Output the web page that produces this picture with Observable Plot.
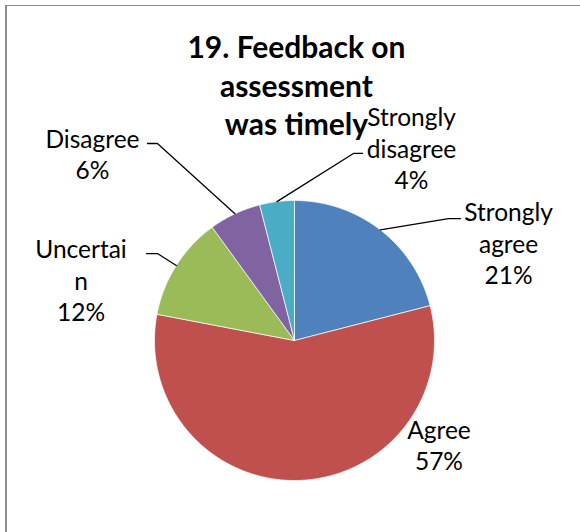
<!DOCTYPE html>
<html>
<head>
<meta charset="utf-8">
<script src="https://cdn.jsdelivr.net/npm/d3@7"></script>
<script src="https://cdn.jsdelivr.net/npm/@observablehq/plot@0.6"></script>
<style>
  html, body { margin: 0; padding: 0; background: #fff; }
  #wrap { position: relative; width: 580px; height: 532px; overflow: hidden; }
  #border { position: absolute; left: 5px; top: 5px; width: 580px; height: 540px;
            border-left: 2px solid #8c8c8c; border-top: 1px solid #8c8c8c; pointer-events: none; }
  svg { display: block; }
</style>
</head>
<body>
<div id="wrap"><div id="chart"></div><div id="border"></div></div>
<script>
// ---- data ----
const title = "19. Feedback on\nassessment\nwas timely";
const categories = ["Strongly agree", "Agree", "Uncertain", "Disagree", "Strongly disagree"];
const values = [21, 57, 12, 6, 4];
const labelTexts = ["Strongly\nagree\n21%", "Agree\n57%", "Uncertai\nn\n12%", "Disagree\n6%", "Strongly\ndisagree\n4%"];
const colors = ["#4F81BD", "#C0504D", "#9BBB59", "#8064A2", "#4BACC6"];

// ---- layout (pie units: radius = 1, centre = 0,0) ----
const R = 140, CX = 294, CY = 340, W = 580, H = 532;
const labelPos = [[1.529, 0.700], [1.032, -0.743], [-1.525, 0.436], [-1.443, 1.336], [0.836, 1.379]];
const leaderElbow = [[1.100, 0.871], null, [-0.979, 0.621], [-0.979, 1.407], [0.421, 1.336]];
const leaderEnd   = [[1.186, 0.871], null, [-1.057, 0.621], [-1.050, 1.407], [0.486, 1.336]];
const titlePos = [0.014, 1.83];

const pie = d3.pie().sort(null).value(d => d)(values);
const slices = [];
const leaders = [];
pie.forEach((p, i) => {
  const cat = categories[i];
  slices.push({cat, x: 0, y: 0});
  const n = Math.max(4, Math.ceil((p.endAngle - p.startAngle) / 0.01));
  for (let k = 0; k <= n; k++) {
    const a = p.startAngle + (p.endAngle - p.startAngle) * k / n;
    slices.push({cat, x: Math.sin(a), y: Math.cos(a)});
  }
  slices.push({cat, x: 0, y: 0});
  if (leaderElbow[i]) {
    const m = (p.startAngle + p.endAngle) / 2;
    leaders.push({i, x: Math.sin(m), y: Math.cos(m)});
    leaders.push({i, x: leaderElbow[i][0], y: leaderElbow[i][1]});
    leaders.push({i, x: leaderEnd[i][0], y: leaderEnd[i][1]});
  }
});
const labels = labelTexts.map((t, i) => ({text: t, x: labelPos[i][0], y: labelPos[i][1]}));

const chart = Plot.plot({
  width: W, height: H,
  margin: 0,
  style: {fontFamily: "Lato, sans-serif", background: "#fff"},
  x: {domain: [-CX / R, (W - CX) / R], axis: null},
  y: {domain: [-(H - CY) / R, CY / R], axis: null},
  color: {domain: categories, range: colors},
  marks: [
    Plot.line(slices, {x: "x", y: "y", z: "cat", fill: "cat", stroke: "#fff", strokeWidth: 1, strokeOpacity: 0.7}),
    Plot.line(leaders, {x: "x", y: "y", z: "i", stroke: "#000", strokeWidth: 1.3}),
    Plot.text(labels, {x: "x", y: "y", text: "text", fontSize: 24.5, lineHeight: 1.29, fill: "#000", textAnchor: "middle", lineAnchor: "middle"}),
    Plot.text([title], {x: () => titlePos[0], y: () => titlePos[1], text: d => d, fontSize: 30, fontWeight: "bold", lineHeight: 1.27, fill: "#000", textAnchor: "middle", lineAnchor: "middle"})
  ]
});
document.getElementById("chart").appendChild(chart);
</script>
</body>
</html>
